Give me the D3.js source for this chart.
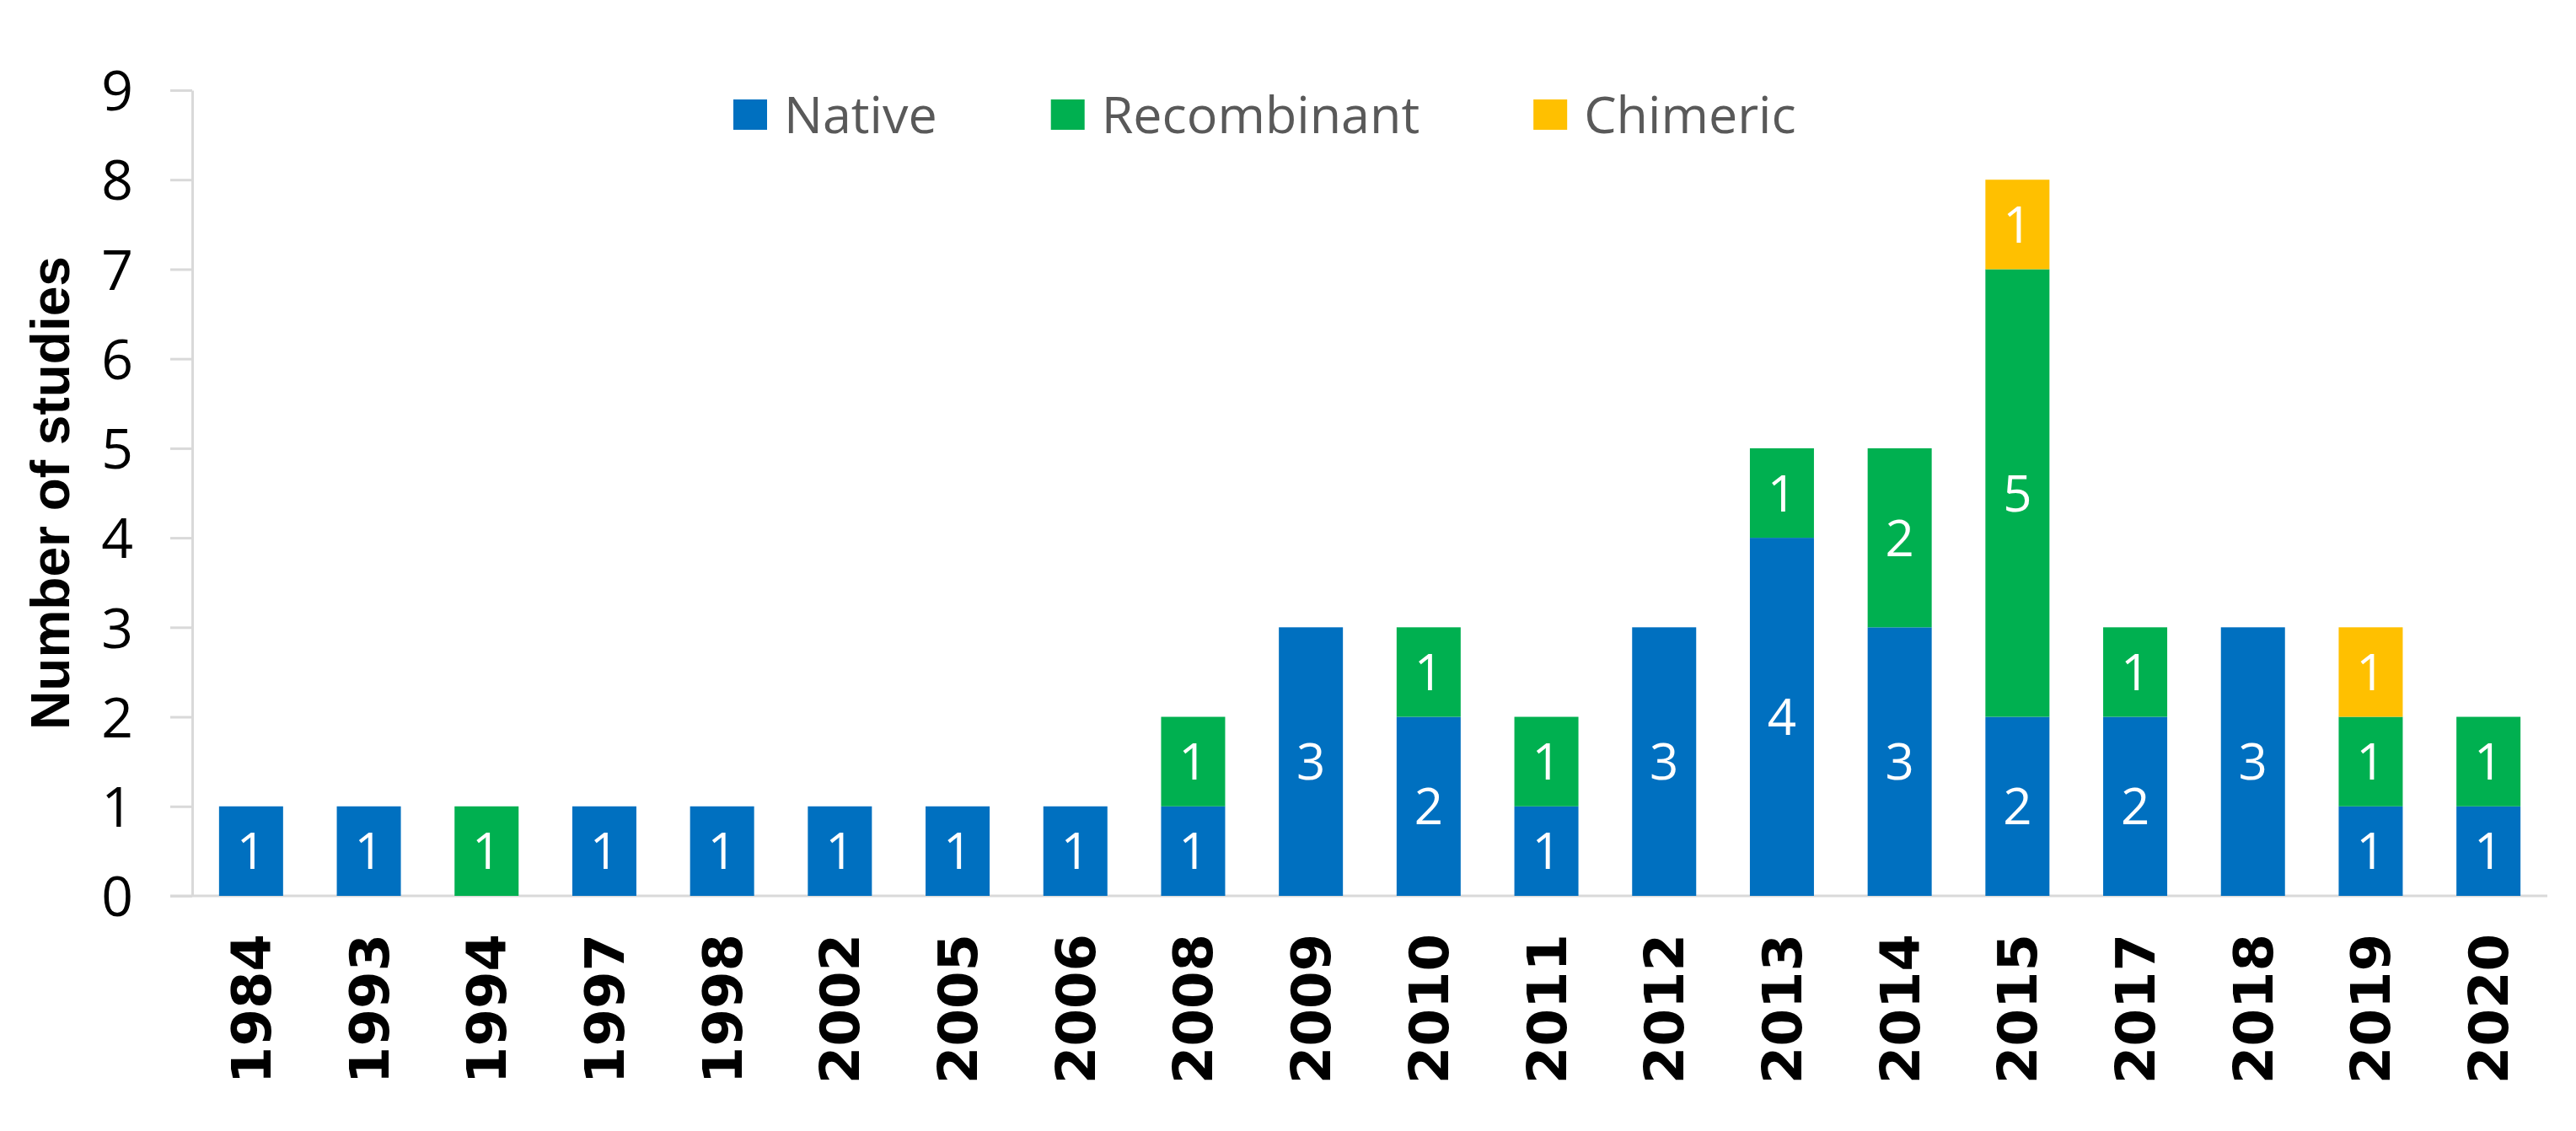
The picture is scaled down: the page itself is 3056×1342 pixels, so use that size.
<!DOCTYPE html>
<html>
    <head>
        <title>Studies per year</title>
        <meta charset="UTF-8">
        <style>
            body { margin: 0; background: #fff; }
            .ytick text { font: 66px "Open Sans", sans-serif; fill: #000; }
            .xtick text { font: bold 64px "DejaVu Sans", sans-serif; fill: #000; }
            .seg-label { font: 60px "Open Sans", sans-serif; fill: #fff; text-anchor: middle; }
            .legend text { font: 61px "Open Sans", sans-serif; fill: #595959; }
            .ytitle { font: bold 64px "Liberation Sans", sans-serif; fill: #000; text-anchor: middle; }
        </style>
    </head>
<body>
    <svg width="3056" height="1342"></svg>
    <script src="https://d3js.org/d3.v7.min.js"></script>
    <script>

        var years = ["1984", "1993", "1994", "1997", "1998", "2002", "2005", "2006", "2008", "2009",
                     "2010", "2011", "2012", "2013", "2014", "2015", "2017", "2018", "2019", "2020"];
        var native      = [1, 1, 0, 1, 1, 1, 1, 1, 1, 3, 2, 1, 3, 4, 3, 2, 2, 3, 1, 1];
        var recombinant = [0, 0, 1, 0, 0, 0, 0, 0, 1, 0, 1, 1, 0, 1, 2, 5, 1, 0, 1, 1];
        var chimeric    = [0, 0, 0, 0, 0, 0, 0, 0, 0, 0, 0, 0, 0, 0, 0, 1, 0, 0, 1, 0];
        var seriesNames = ["Native", "Recombinant", "Chimeric"];
        var seriesColors = ["#0070C0", "#00B050", "#FFC000"];
        var yTicks = [0, 1, 2, 3, 4, 5, 6, 7, 8, 9];

        var svg = d3.select("svg"),
                plotLeft = 228, plotRight = 3022, plotTop = 107, plotBottom = 1063;

        var rows = years.map(function (y, i) {
            return {year: y, Native: native[i], Recombinant: recombinant[i], Chimeric: chimeric[i]};
        });

        var x = d3.scaleBand()
                .domain(years)
                .range([plotLeft, plotRight])
                .paddingInner(0.456)
                .paddingOuter(0.228);

        var y = d3.scaleLinear()
                .domain([0, 9])
                .range([plotBottom, plotTop]);

        var color = d3.scaleOrdinal(seriesNames, seriesColors);

        var stacked = d3.stack().keys(seriesNames)(rows);

        // y axis
        var yAxis = svg.append("g")
                .attr("class", "ytick")
                .attr("transform", "translate(" + plotLeft + ",0)")
                .call(d3.axisLeft(y).tickValues(yTicks).tickSize(26).tickPadding(44).tickSizeOuter(0));
        yAxis.selectAll("line, path").attr("stroke", "#d9d9d9").attr("stroke-width", 3);
        yAxis.selectAll("text").attr("dy", "0.36em");

        // x axis
        var xAxis = svg.append("g")
                .attr("class", "xtick")
                .attr("transform", "translate(0," + plotBottom + ")")
                .call(d3.axisBottom(x).tickSize(0).tickSizeOuter(0));
        xAxis.select("path").attr("stroke", "#d9d9d9").attr("stroke-width", 3)
                .attr("d", "M" + (plotLeft - 26) + ",0H" + plotRight);
        xAxis.selectAll("text")
                .attr("transform", "rotate(-90)")
                .attr("text-anchor", "end")
                .attr("x", -45)
                .attr("y", 0)
                .attr("dy", "0.36em");

        // bars
        var layer = svg.append("g").selectAll("g")
                .data(stacked)
                .enter().append("g")
                .attr("fill", function (d) { return color(d.key); });

        layer.selectAll("rect")
                .data(function (d) { return d.filter(function (s) { return s[1] - s[0] > 0; }); })
                .enter().append("rect")
                .attr("x", function (d) { return x(d.data.year); })
                .attr("y", function (d) { return y(d[1]); })
                .attr("width", x.bandwidth())
                .attr("height", function (d) { return y(d[0]) - y(d[1]); });

        layer.selectAll("text")
                .data(function (d) { return d.filter(function (s) { return s[1] - s[0] > 0; }); })
                .enter().append("text")
                .attr("class", "seg-label")
                .attr("x", function (d) { return x(d.data.year) + x.bandwidth() / 2; })
                .attr("y", function (d) { return y((d[0] + d[1]) / 2); })
                .attr("dy", "0.36em")
                .text(function (d) { return d[1] - d[0]; });

        // y title
        svg.append("text")
                .attr("class", "ytitle")
                .attr("transform", "translate(82," + ((plotTop + plotBottom) / 2) + ") rotate(-90)")
                .text("Number of studies");

        // legend
        var legend = svg.append("g").attr("class", "legend");
        var lx = 870;
        seriesNames.forEach(function (name, i) {
            var item = legend.append("g").attr("transform", "translate(" + lx + ",118)");
            item.append("rect").attr("width", 40).attr("height", 36).attr("fill", seriesColors[i]);
            var t = item.append("text").attr("x", 60).attr("y", 18).attr("dy", "0.36em").text(name);
            lx += 60 + t.node().getComputedTextLength() + 135;
        });

    </script>
</body>
</html>
